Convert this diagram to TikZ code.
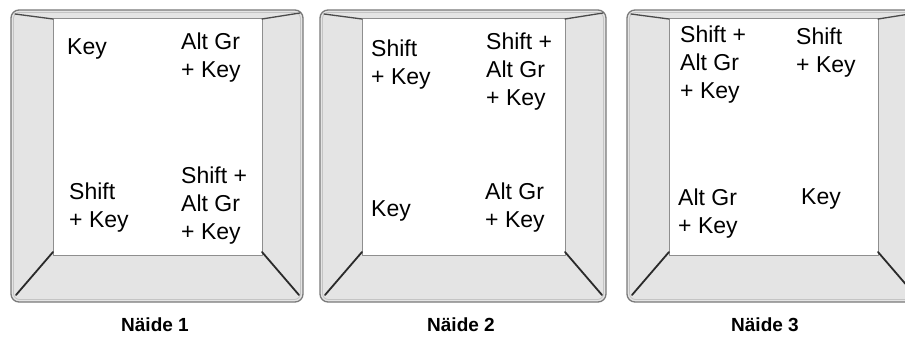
\documentclass[tikz,border=0pt]{standalone}
\usepackage{fontspec}
\setmainfont{Liberation Sans}
\definecolor{bevel}{HTML}{E4E4E4}
\definecolor{rim}{HTML}{7A7A7A}
\definecolor{rimlight}{HTML}{C4C4C4}
\definecolor{crease}{HTML}{2A2A2A}

\begin{document}
\begin{tikzpicture}[x=1pt,y=-1pt,line cap=round,line join=round,
  keytext/.style={anchor=north west,inner sep=0pt,align=left,font=\fontsize{23}{28}\selectfont},
  caption/.style={anchor=base,inner sep=0pt,font=\fontsize{19}{22}\selectfont\bfseries}]
  \useasboundingbox (0,0) rectangle (905,337);
  \clip (0,0) rectangle (905,337);
  \fill[white] (0,0) rectangle (905,337);
  % key caps
  \foreach \a/\b in {11/303,320/606,627/919}{
    \filldraw[fill=bevel,draw=rim,line width=1.3pt,rounded corners=8pt] (\a,10) rectangle (\b,302);
    \draw[rimlight,line width=0.8pt,rounded corners=6pt] (\a+2.5,12.5) rectangle (\b-2.5,299.5);
    \filldraw[fill=white,draw=rim!85,line width=1pt] (\a+42,19) rectangle (\b-41,255);
    \draw[crease,line width=1.8pt] (\a+42,252) -- (\a+5,295);
    \draw[crease,line width=1.8pt] (\b-41,252) -- (\b-4,295);
    \draw[crease!85,line width=1.3pt] (\a+4,14) -- (\a+42,19);
    \draw[crease!85,line width=1.3pt] (\b-41,19) -- (\b-3,13);
  }
  % Naide 1
  \node[keytext] (k1tl) at (67,38) {Key};
  \node[keytext] (k1tr) at (181,33) {Alt Gr\\+ Key};
  \node[keytext] (k1bl) at (69,183) {Shift\\+ Key};
  \node[keytext] (k1br) at (181,167) {Shift +\\Alt Gr\\+ Key};
  % Naide 2
  \node[keytext] (k2tl) at (371,40) {Shift\\+ Key};
  \node[keytext] (k2tr) at (486,33) {Shift +\\Alt Gr\\+ Key};
  \node[keytext] (k2bl) at (371,200) {Key};
  \node[keytext] (k2br) at (485,183) {Alt Gr\\+ Key};
  % Naide 3
  \node[keytext] (k3tl) at (680,26) {Shift +\\Alt Gr\\+ Key};
  \node[keytext] (k3tr) at (796,28) {Shift\\+ Key};
  \node[keytext] (k3bl) at (678,189) {Alt Gr\\+ Key};
  \node[keytext] (k3br) at (801,188) {Key};
  % captions
  \node[caption] (cap1) at (155,331) {Näide 1};
  \node[caption] (cap2) at (461,331) {Näide 2};
  \node[caption] (cap3) at (765,331) {Näide 3};
\end{tikzpicture}
\end{document}
